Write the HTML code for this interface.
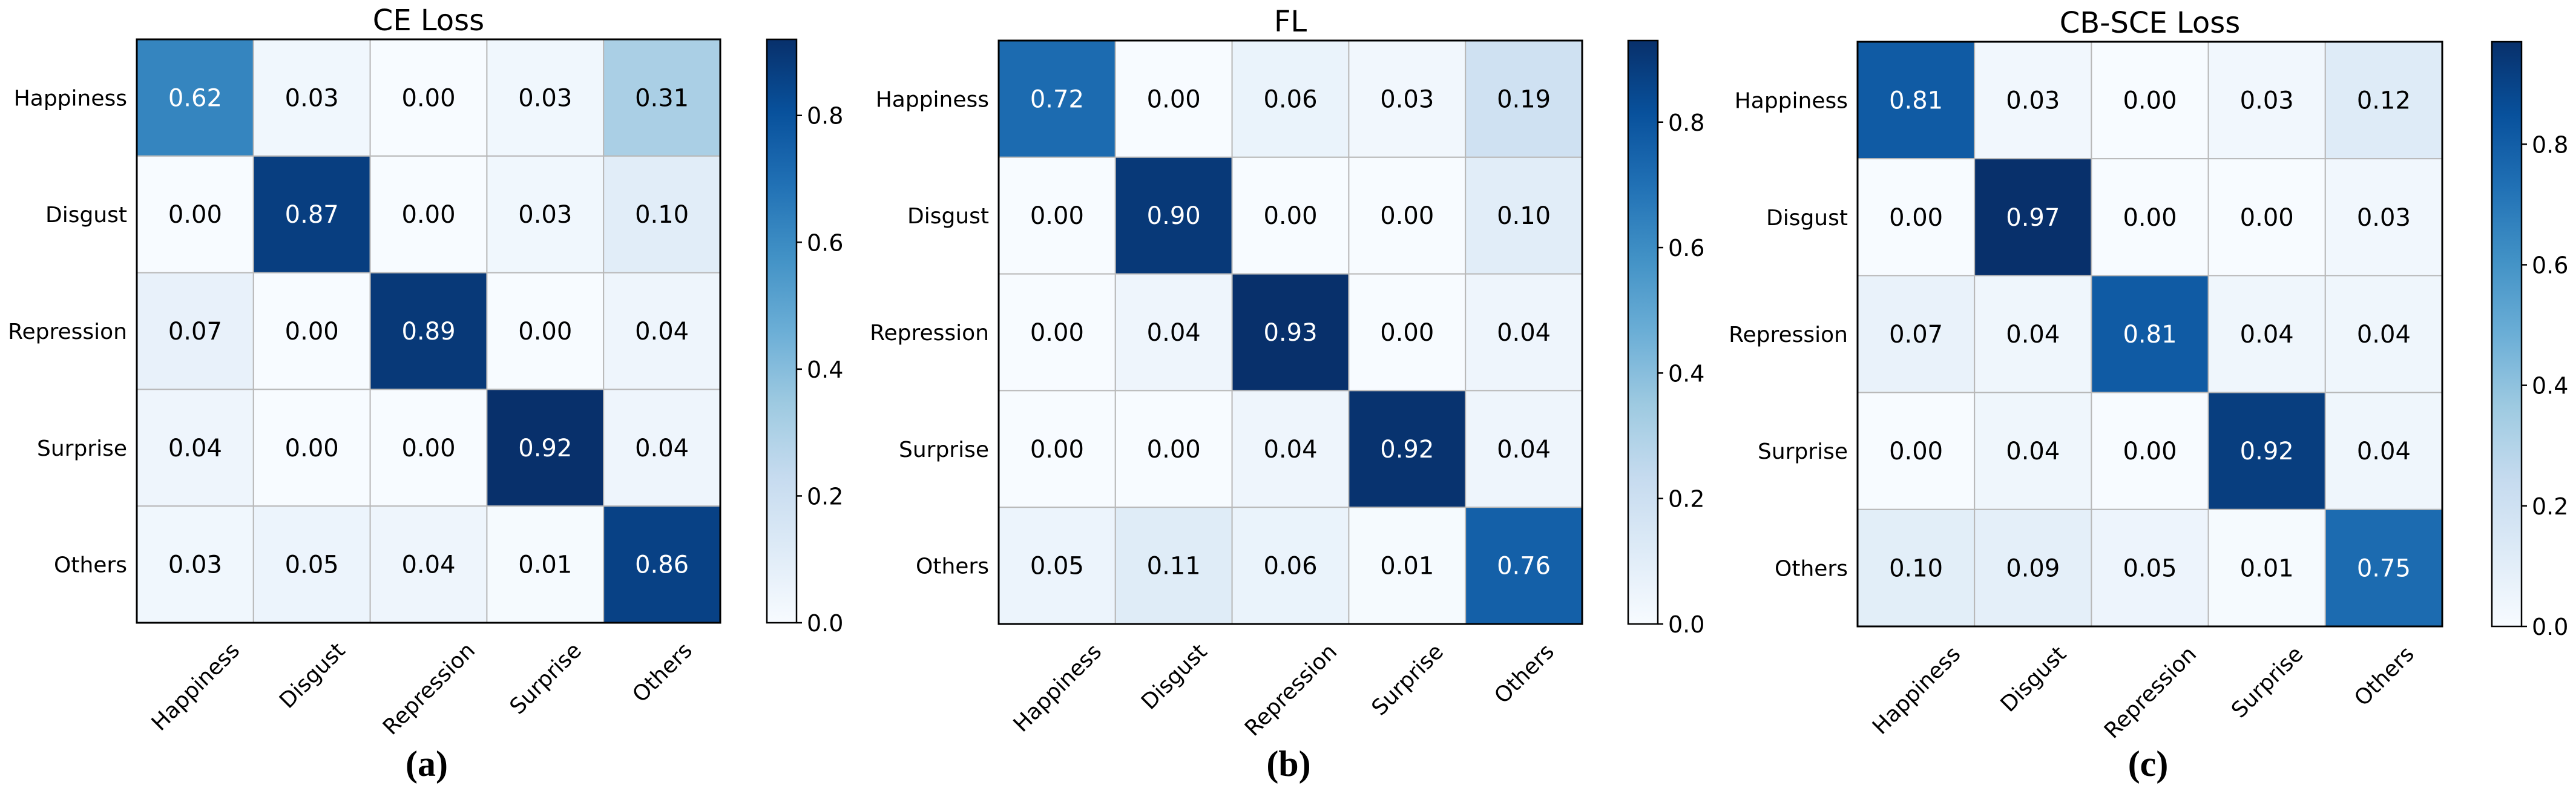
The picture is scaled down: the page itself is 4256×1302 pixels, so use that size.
<!DOCTYPE html>
<html><head><meta charset="utf-8">
<style>
html,body{margin:0;padding:0;background:#fff;}
svg{display:block;font-family:"DejaVu Sans","Liberation Sans",sans-serif;}
</style></head>
<body>
<svg id="fig" width="4256" height="1302" viewBox="0 0 4256 1302" xmlns="http://www.w3.org/2000/svg"></svg>
<script>
const classLabels = ["Happiness","Disgust","Repression","Surprise","Others"];
const ceValues = [
  [0.62,0.03,0.00,0.03,0.31],
  [0.00,0.87,0.00,0.03,0.10],
  [0.07,0.00,0.89,0.00,0.04],
  [0.04,0.00,0.00,0.92,0.04],
  [0.03,0.05,0.04,0.01,0.86]
];
const flValues = [
  [0.72,0.00,0.06,0.03,0.19],
  [0.00,0.90,0.00,0.00,0.10],
  [0.00,0.04,0.93,0.00,0.04],
  [0.00,0.00,0.04,0.92,0.04],
  [0.05,0.11,0.06,0.01,0.76]
];
const cbValues = [
  [0.81,0.03,0.00,0.03,0.12],
  [0.00,0.97,0.00,0.00,0.03],
  [0.07,0.04,0.81,0.04,0.04],
  [0.00,0.04,0.00,0.92,0.04],
  [0.10,0.09,0.05,0.01,0.75]
];
const panelTitles = ["CE Loss","FL","CB-SCE Loss"];
const panelLetters = ["(a)","(b)","(c)"];
const colorbarTicks = [0.0,0.2,0.4,0.6,0.8];

const NS="http://www.w3.org/2000/svg";
const svg=document.getElementById('fig');
function mk(tag,attrs,parent){const e=document.createElementNS(NS,tag);for(const k in attrs)e.setAttribute(k,attrs[k]);(parent||svg).appendChild(e);return e;}

const blues=[[247,251,255],[222,235,247],[198,219,239],[158,202,225],[107,174,214],[66,146,198],[33,113,181],[8,81,156],[8,48,107]];
function cmap(t){t=Math.max(0,Math.min(1,t));const p=t*8;const i=Math.min(7,Math.floor(p));const f=p-i;const a=blues[i],b=blues[i+1];
  return 'rgb('+a.map((v,k)=>Math.round(v+(b[k]-v)*f)).join(',')+')';}

const layouts=[
  {x:226,y:65,size:964,cbx:1267},
  {x:1650,y:67,size:964,cbx:2690},
  {x:3069,y:69,size:966,cbx:4117}
];
const datasets=[ceValues,flValues,cbValues];

datasets.forEach((data,p)=>{
  const L=layouts[p];
  const g=mk('g',{});
  
  
  const n=classLabels.length;
  const cell=L.size/n;
  const vmax=Math.max(...data.flat());
  const xs=j=>L.x+j*cell;
  const ys=i=>L.y+i*cell;
  const t=mk('text',{x:L.x+L.size/2,y:L.y-15,'text-anchor':'middle','font-size':48,fill:'#000'},g);
  t.textContent=panelTitles[p];
  
  
  for(let i=0;i<n;i++)for(let j=0;j<n;j++){
    const v=data[i][j];
    const r=mk('rect',{x:xs(j),y:ys(i),width:cell,height:cell,fill:cmap(v/vmax),stroke:'#b8b8b8','stroke-width':2},g);
    
    
  }
  for(let i=0;i<n;i++)for(let j=0;j<n;j++){
    const v=data[i][j];
    const tx=mk('text',{x:xs(j)+cell/2,y:ys(i)+cell/2+14,'text-anchor':'middle','font-size':40,fill:(v>vmax/2?'#fff':'#000')},g);
    tx.textContent=v.toFixed(2);
    
    
  }
  mk('rect',{x:L.x,y:L.y,width:L.size,height:L.size,fill:'none',stroke:'#000','stroke-width':3},g);
  classLabels.forEach((c,i)=>{
    const yl=mk('text',{x:L.x-16,y:ys(i)+cell/2+13,'text-anchor':'end','font-size':36,fill:'#000'},g);
    yl.textContent=c;
    
    
  });
  classLabels.forEach((c,j)=>{
    const xl=mk('text',{'text-anchor':'middle','font-size':36,fill:'#000'},g);
    xl.textContent=c;
    
    
    const w=xl.getComputedTextLength();
    const h=36;
    const cx=xs(j)+cell/2;
    const cy=L.y+L.size+26+(w+h)/(2*Math.SQRT2);
    xl.setAttribute('transform','translate('+cx+','+cy+') rotate(-45)');
    xl.setAttribute('x',0);xl.setAttribute('y',13);
  });
  const cbw=49, cbTop=L.y, cbH=L.size;
  const gid='grad'+p;
  const defs=mk('defs',{},g);
  const lg=mk('linearGradient',{id:gid,x1:0,y1:1,x2:0,y2:0},defs);
  for(let k=0;k<=16;k++){mk('stop',{offset:(k/16),'stop-color':cmap(k/16)},lg);}
  const cb=mk('rect',{x:L.cbx,y:cbTop,width:cbw,height:cbH,fill:'url(#'+gid+')',stroke:'#000','stroke-width':2.5},g);
  
  
  const cy=v=>cbTop+cbH-(v/vmax)*cbH;
  colorbarTicks.forEach(v=>{
    mk('line',{x1:L.cbx+cbw,x2:L.cbx+cbw+9,y1:cy(v),y2:cy(v),stroke:'#000','stroke-width':2.5},g);
    const tl=mk('text',{x:L.cbx+cbw+17,y:cy(v)+14,'font-size':38,fill:'#000'},g);
    tl.textContent=v.toFixed(1);
    
    
  });
  const pl=mk('text',{x:L.x+L.size/2-3,y:1282,'text-anchor':'middle','font-size':60,'font-weight':'bold','font-family':'"Liberation Serif",serif',fill:'#000'},g);
  pl.textContent=panelLetters[p];
  
  
});
</script>
</body></html>
